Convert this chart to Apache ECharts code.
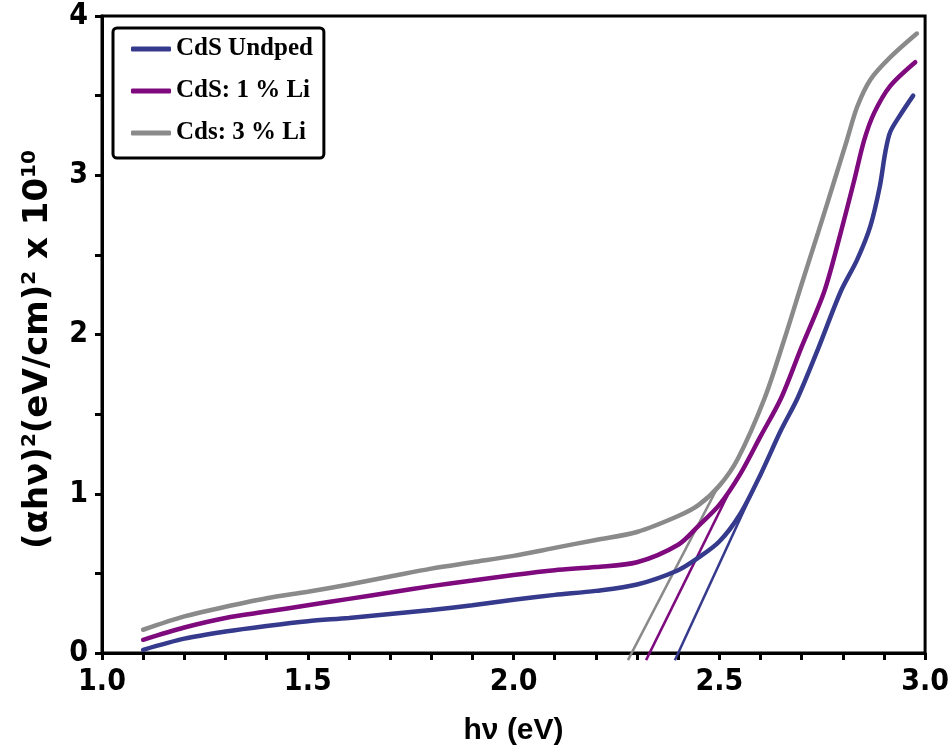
<!DOCTYPE html>
<html>
<head>
<meta charset="utf-8">
<script src="https://cdn.jsdelivr.net/npm/echarts@6/dist/echarts.min.js"></script>
<style>html,body{margin:0;padding:0;background:#fff}#c{width:952px;height:751px}</style>
</head>
<body>
<div id="c"></div>
<script>
const seriesNames = ['CdS Undped', 'CdS: 1 % Li', 'Cds: 3 % Li'];
const seriesColors = ['#363a8c', '#7e0a7e', '#8a8a8a'];

const undopedX = [1.1,1.2,1.3,1.4,1.5,1.6,1.7,1.8,1.9,2.0,2.1,2.2,2.3,2.4,2.45,2.5,2.55,2.6,2.65,2.69,2.74,2.795,2.835,2.867,2.89,2.903,2.915,2.94,2.971];
const undopedY = [0.02,0.09,0.135,0.17,0.20,0.22,0.245,0.27,0.30,0.335,0.365,0.39,0.43,0.52,0.60,0.70,0.87,1.12,1.40,1.60,1.91,2.27,2.47,2.68,2.93,3.14,3.27,3.38,3.50];

const li1X = [1.1,1.2,1.3,1.4,1.5,1.6,1.7,1.8,1.9,2.0,2.1,2.2,2.3,2.4,2.45,2.5,2.55,2.6,2.65,2.698,2.755,2.795,2.828,2.852,2.876,2.915,2.976];
const li1Y = [0.083,0.16,0.22,0.26,0.30,0.34,0.38,0.42,0.455,0.49,0.52,0.54,0.57,0.68,0.80,0.93,1.12,1.36,1.60,1.91,2.27,2.64,2.97,3.22,3.39,3.56,3.71];

const li3X = [1.1,1.2,1.3,1.4,1.5,1.6,1.7,1.8,1.9,2.0,2.1,2.2,2.3,2.4,2.45,2.5,2.545,2.61,2.658,2.698,2.74,2.78,2.81,2.835,2.867,2.915,2.98];
const li3Y = [0.146,0.23,0.29,0.344,0.385,0.43,0.48,0.53,0.57,0.61,0.66,0.71,0.76,0.86,0.93,1.05,1.22,1.60,1.97,2.30,2.64,2.97,3.22,3.43,3.60,3.74,3.89];

// Tangent (extrapolation) lines: start and end points
const tangentUndoped = [[2.392, -0.045], [2.60, 1.12]];
const tangentLi1 = [[2.322, -0.045], [2.52, 0.99]];
const tangentLi3 = [[2.278, -0.045], [2.50, 1.06]];

const xTickLabels = ['1.0', '1.5', '2.0', '2.5', '3.0'];
const yTickLabels = ['0', '1', '2', '3', '4'];

function pairs(xs, ys) { return xs.map((x, i) => [x, ys[i]]); }

const chart = echarts.init(document.getElementById('c'));
const tickFont = '"Liberation Sans Narrow", "DejaVu Sans Condensed", "Liberation Sans", Arial, sans-serif';
const titleFont = '"DejaVu Sans", "Liberation Sans", Arial, sans-serif';

chart.setOption({
  animation: false,
  backgroundColor: '#fff',
  grid: { left: 102, right: 24, top: 16, bottom: 96, show: true, borderColor: '#000', borderWidth: 3 },
  legend: {
    data: seriesNames,
    orient: 'vertical',
    left: 113, top: 28,
    backgroundColor: '#fff',
    borderColor: '#000', borderWidth: 3, borderRadius: 4,
    padding: [0, 11, 4, 18],
    itemGap: 0,
    itemWidth: 40, itemHeight: 5,
    itemTextGap: 14,
    icon: 'roundRect',
    textStyle: { fontFamily: '"Liberation Serif", "Times New Roman", serif', fontWeight: 'bold', fontSize: 25, color: '#000', lineHeight: 42 }
  },
  xAxis: {
    type: 'value', min: 1.0, max: 3.0, interval: 0.1,
    name: 'h\u03bd (eV)', nameLocation: 'middle', nameGap: 63,
    nameTextStyle: { fontFamily: '"Liberation Sans", Arial, sans-serif', fontWeight: 'bold', fontSize: 30, color: '#000' },
    axisLine: { lineStyle: { color: '#000', width: 3 } },
    axisTick: { inside: false, length: 7, lineStyle: { color: '#000', width: 3 } },
    splitLine: { show: false },
    axisLabel: {
      margin: 14, color: '#000', fontFamily: tickFont, fontWeight: 'bold', fontSize: 30,
      formatter: v => { const k = Math.round(v * 2); return Math.abs(v * 2 - k) < 1e-6 ? xTickLabels[k - 2] : ''; }
    }
  },
  yAxis: {
    type: 'value', min: 0, max: 4, interval: 0.5,
    name: '{a|(\u03b1h\u03bd)}{s|2}{a|(eV/cm)}{s|2}{a| x 10}{s|10}',
    nameLocation: 'middle', nameGap: 46, nameRotate: 90,
    nameTextStyle: {
      padding: [0, 30, 0, 0],
      rich: {
        a: { fontFamily: titleFont, fontWeight: 'bold', fontSize: 34, color: '#000' },
        s: { fontFamily: titleFont, fontWeight: 'bold', fontSize: 20, color: '#000', padding: [0, 0, 16, 0] }
      }
    },
    axisLine: { lineStyle: { color: '#000', width: 3 } },
    axisTick: { inside: false, length: 7, lineStyle: { color: '#000', width: 3 } },
    splitLine: { show: false },
    axisLabel: {
      margin: 14, color: '#000', fontFamily: tickFont, fontWeight: 'bold', fontSize: 30,
      formatter: v => { const k = Math.round(v); return Math.abs(v - k) < 1e-6 ? yTickLabels[k] : ''; }
    }
  },
  series: [
    { name: seriesNames[0], type: 'line', data: pairs(undopedX, undopedY), smooth: 0.3, showSymbol: false, color: seriesColors[0], lineStyle: { width: 4.5, color: seriesColors[0], cap: 'round' }, z: 3 },
    { name: seriesNames[1], type: 'line', data: pairs(li1X, li1Y), smooth: 0.3, showSymbol: false, color: seriesColors[1], lineStyle: { width: 4.5, color: seriesColors[1], cap: 'round' }, z: 3 },
    { name: seriesNames[2], type: 'line', data: pairs(li3X, li3Y), smooth: 0.3, showSymbol: false, color: seriesColors[2], lineStyle: { width: 4.5, color: seriesColors[2], cap: 'round' }, z: 3 },
    { name: 't0', type: 'line', data: tangentUndoped, showSymbol: false, clip: false, lineStyle: { width: 2.5, color: seriesColors[0] }, z: 2 },
    { name: 't1', type: 'line', data: tangentLi1, showSymbol: false, clip: false, lineStyle: { width: 2.5, color: seriesColors[1] }, z: 2 },
    { name: 't2', type: 'line', data: tangentLi3, showSymbol: false, clip: false, lineStyle: { width: 2.5, color: seriesColors[2] }, z: 2 }
  ]
});
</script>
</body>
</html>
